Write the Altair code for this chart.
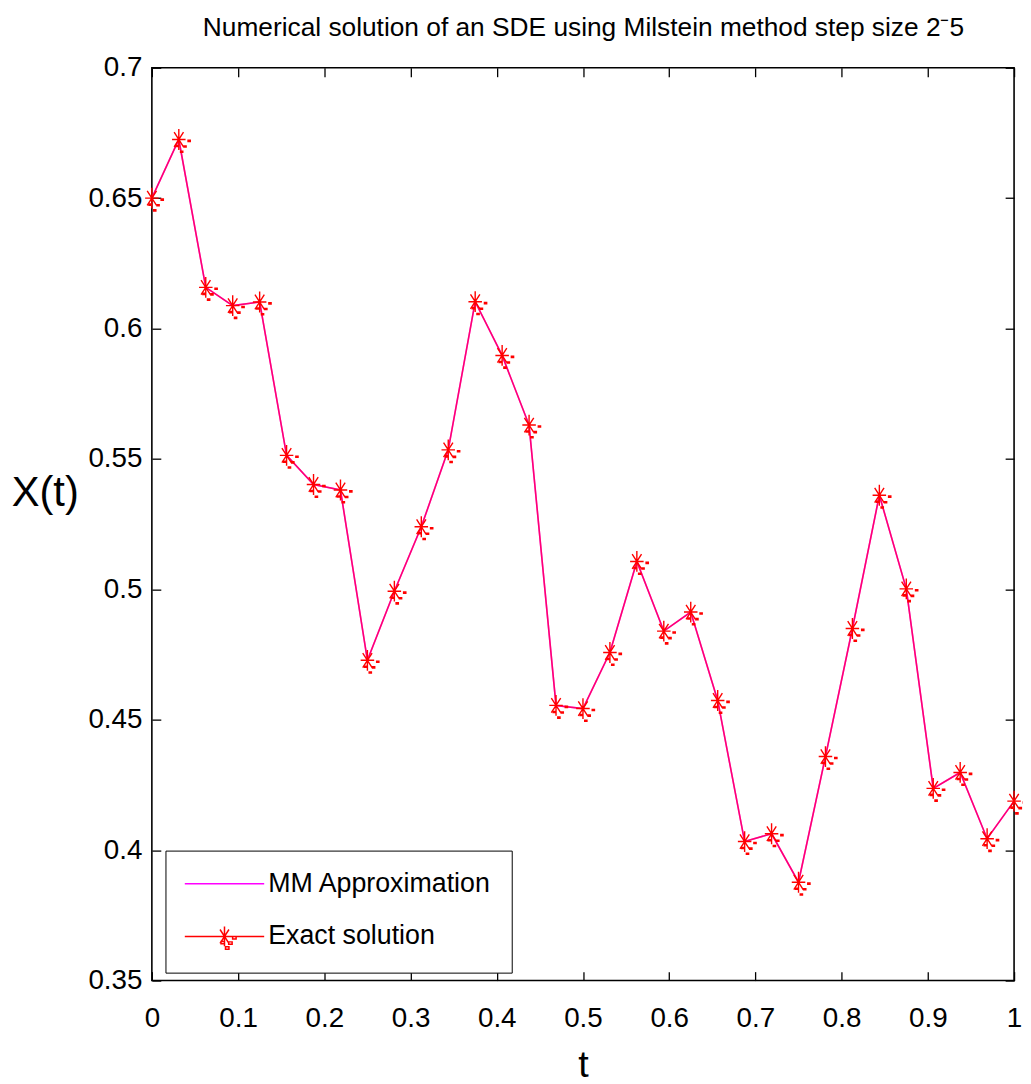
import altair as alt
import pandas as pd

# ---------------- data ----------------
t_vals = [k / 32 for k in range(33)]
x_vals = [0.6500, 0.6725, 0.6158, 0.6088, 0.6102, 0.5514, 0.5402, 0.5381, 0.4728, 0.4993,
          0.5240, 0.5535, 0.6103, 0.5897, 0.5630, 0.4555, 0.4543, 0.4758, 0.5107, 0.4840,
          0.4913, 0.4574, 0.4033, 0.4063, 0.3877, 0.4359, 0.4850, 0.5361, 0.5002, 0.4237,
          0.4298, 0.4044, 0.4188]
series_names = ["MM Approximation", "Exact solution"]
series_colors = ["#ff00ff", "#ff0000"]
x_ticks = [0, 0.1, 0.2, 0.3, 0.4, 0.5, 0.6, 0.7, 0.8, 0.9, 1]
y_ticks = [0.35, 0.4, 0.45, 0.5, 0.55, 0.6, 0.65, 0.7]
title_text = "Numerical solution of an SDE using Milstein method step size 2\u207b5"

FONT = "Liberation Sans, Arial, sans-serif"

STAR = "M-0.65,0L0.65,0M0,-1L0,1M-0.45,-0.7L0.45,0.7M-0.45,0.7L0.45,-0.7"
DOTS = ("M0.82,0.01h0.35v0.25h-0.35Z M0.42,0.55h0.35v0.25h-0.35Z "
        "M-0.35,0.5h0.35v0.25h-0.35Z M0.1,1.05h0.35v0.25h-0.35Z")
LEG_LINE = "M-4,0L4,0"
LEG_EXACT = LEG_LINE + STAR + DOTS

df = pd.DataFrame({"t": t_vals, "X": x_vals})
legend_df = pd.DataFrame({"series": series_names, "t": [0.5, 0.5], "X": [0.5, 0.5]})

xs = alt.Scale(domain=[0, 1], nice=False, zero=False)
ys = alt.Scale(domain=[0.35, 0.7], nice=False, zero=False)

main_x = alt.Axis(orient="bottom", values=x_ticks, ticks=False, domain=False, grid=False,
                  labelFont=FONT, labelFontSize=28, labelPadding=24, labelFlush=False,
                  labelOverlap=False, labelBound=False, labelColor="black", format="~g",
                  title="t", titleFont=FONT, titleFontSize=38, titleFontWeight="normal",
                  titleColor="black", titleY=86, titleBaseline="middle")
main_y = alt.Axis(orient="left", values=y_ticks, ticks=False, domain=False, grid=False,
                  labelFont=FONT, labelFontSize=28, labelPadding=10, labelFlush=False,
                  labelOverlap=False, labelColor="black", format="~g",
                  title="X(t)", titleFont=FONT, titleFontSize=42, titleFontWeight="normal",
                  titleColor="black", titleAngle=0, titleX=-108, titleY=428,
                  titleAlign="center", titleBaseline="middle")


def tick_axis(orient, vals):
    return alt.Axis(orient=orient, values=vals, offset=-9, tickSize=9, tickWidth=1.3,
                    tickColor="black", labels=False, domain=False, grid=False, title=None)


top_axis = alt.Axis(orient="top", values=x_ticks, offset=-9, tickSize=9, tickWidth=1.3,
                    tickColor="black", labels=False, domain=False, grid=False,
                    title=title_text, titleFont=FONT, titleFontSize=26.5,
                    titleFontWeight="normal", titleColor="black",
                    titleX=434.5, titleY=-42, titleAlign="center",
                    titleBaseline="alphabetic")

base = alt.Chart(df)

line_mm = base.mark_line(color="#ff00ff", strokeWidth=1.6).encode(
    x=alt.X("t:Q", scale=xs, axis=main_x),
    y=alt.Y("X:Q", scale=ys, axis=main_y),
)
line_ex = base.mark_line(color="#ff0000", strokeWidth=1.6, opacity=0.55).encode(
    x=alt.X("t:Q", scale=xs, axis=top_axis),
    y=alt.Y("X:Q", scale=ys, axis=tick_axis("right", y_ticks)),
)
stars = base.mark_point(shape=STAR, size=440, color="#ff0000", filled=False,
                        strokeWidth=1.4, opacity=1).encode(
    x=alt.X("t:Q", scale=xs, axis=tick_axis("bottom", x_ticks)),
    y=alt.Y("X:Q", scale=ys, axis=tick_axis("left", y_ticks)),
)
dots = base.mark_point(shape=DOTS, size=440, color="#ff0000", filled=True,
                       strokeWidth=0, opacity=1).encode(
    x=alt.X("t:Q", scale=xs, axis=None),
    y=alt.Y("X:Q", scale=ys, axis=None),
)

leg = alt.Legend(orient="none", legendX=13.7, legendY=789, title=None,
                 fillColor="white", strokeColor="black", padding=20,
                 rowPadding=25, symbolSize=400, symbolStrokeWidth=1.5,
                 symbolOffset=26, labelOffset=30.5, labelFont=FONT,
                 labelFontSize=27, labelLimit=500, labelColor="black")

legend_layer = alt.Chart(legend_df).mark_point(filled=False, strokeWidth=1.5, opacity=1).encode(
    x=alt.X("t:Q", scale=xs, axis=None),
    y=alt.Y("X:Q", scale=ys, axis=None),
    color=alt.Color("series:N", scale=alt.Scale(domain=series_names, range=series_colors), legend=leg),
    shape=alt.Shape("series:N", scale=alt.Scale(domain=series_names, range=[LEG_LINE, LEG_EXACT]), legend=leg),
).transform_filter("false")

chart = alt.layer(line_mm, line_ex, stars, dots, legend_layer).resolve_axis(
    x="independent", y="independent"
).properties(
    width=869, height=920,
    autosize=alt.AutoSizeParams(type="none"),
    padding={"left": 145, "top": 56, "right": 9, "bottom": 100},
).configure(background="white").configure_view(stroke="black", strokeWidth=1.6)

chart.save("out.html", embed_options={"renderer": "svg", "actions": False})
